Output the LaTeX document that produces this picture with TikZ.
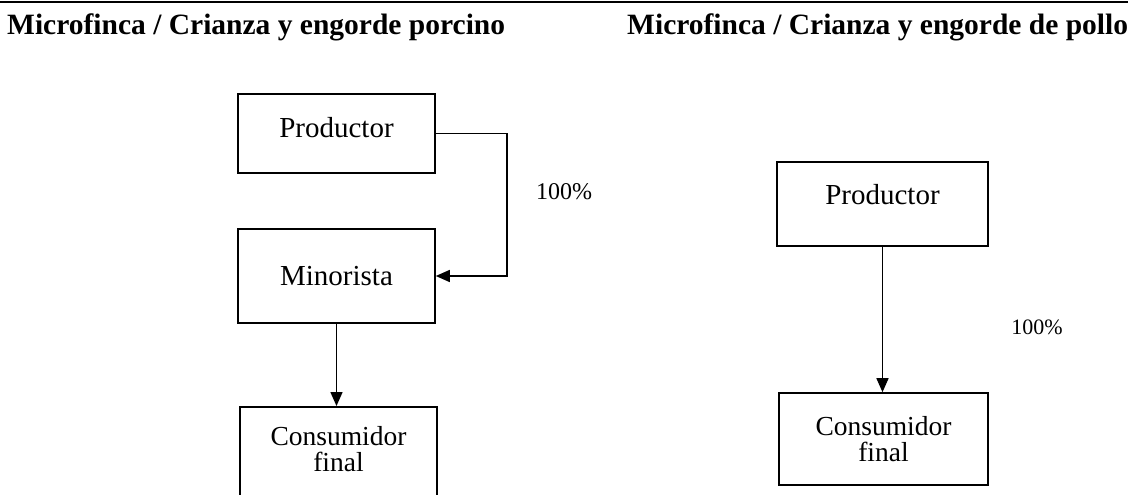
\documentclass[tikz,border=0pt]{standalone}
\usepackage{fontspec}
\setmainfont{Liberation Serif}
\usetikzlibrary{arrows.meta}

\tikzset{
    box/.style={draw,rectangle,line width=1.6pt,align=center,
        font=\fontsize{29}{32}\selectfont},
    twoline/.style={box,font=\fontsize{27.5}{26}\selectfont},
    title/.style={anchor=base west,inner sep=0pt,
        font=\fontsize{29.5}{34}\selectfont\bfseries},
    pct/.style={inner sep=0pt,font=\fontsize{24}{26}\selectfont},
    flow/.style={line width=1.5pt,-{Triangle[length=14pt,width=12pt]}}
}

\begin{document}
\begin{tikzpicture}[x=1pt,y=-1pt]
    \clip (0,0) rectangle (1128,495);
    \draw[line width=2.2pt] (0,2) -- (1128,2);

    \node[title] (t1) at (7,35) {Microfinca / Crianza y engorde porcino};
    \node[title] (t2) at (627,35) {Microfinca / Crianza y engorde de pollo};

    % porcino
    \node[box,minimum width=197pt,minimum height=79pt,text depth=12pt] (a) at (336.5,133.5) {Productor};
    \node[box,minimum width=197pt,minimum height=94pt] (b) at (336.5,276) {Minorista};
    \node[twoline,anchor=north,minimum width=197pt,inner ysep=20pt,
        text depth=70pt] (c) at (338.5,406) {Consumidor\\final};
    \coordinate (ab) at (507,133.5);
    \node[pct] (p1) at (564,192) {100\%};
    \draw[flow] (a.east) -- (ab) |- (b.east);
    \draw[flow] (b.south) -- (b.south |- c.north);

    % pollo
    \node[box,minimum width=211pt,minimum height=84pt,text depth=20pt] (A) at (882.5,204) {Productor};
    \node[twoline,minimum width=209pt,minimum height=92pt] (C) at (883.5,439) {Consumidor\\final};
    \node[pct,font=\fontsize{22}{24}\selectfont] (p2) at (1037,327) {100\%};
    \draw[flow] (A.south) -- (A.south |- C.north);
\end{tikzpicture}
\end{document}
